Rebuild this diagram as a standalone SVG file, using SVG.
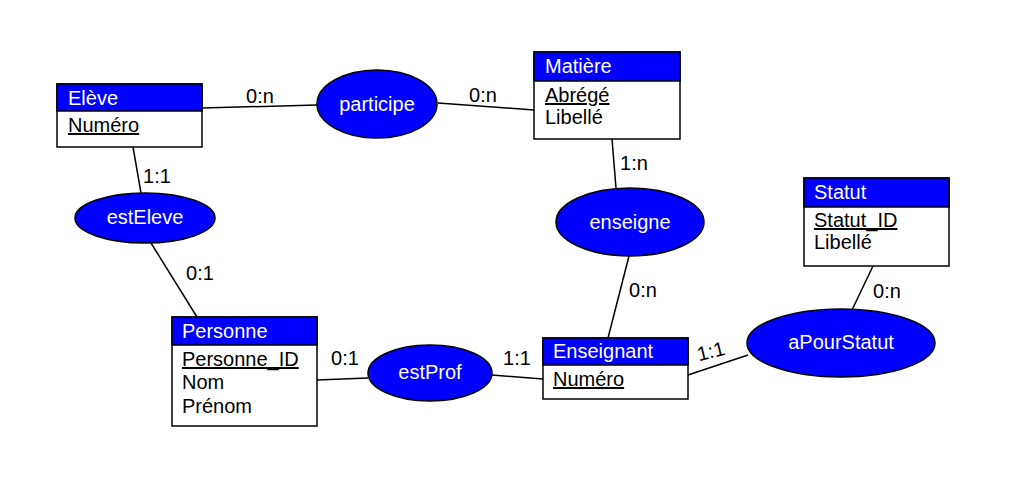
<svg xmlns="http://www.w3.org/2000/svg" width="1017" height="487" viewBox="0 0 1017 487">
<style>
text{font-family:"Liberation Sans",Arial,sans-serif;font-size:20px}
.box{fill:#fff;stroke:#000;stroke-width:1.5}
.hdr{fill:#0000ff;stroke:#000;stroke-width:1.5}
.ell{fill:#0000ff;stroke:#000;stroke-width:1.5}
.t{fill:#fff}
.a{fill:#000}
.k{fill:#000;text-decoration:underline}
.c{text-anchor:middle}
.ln{stroke:#000;stroke-width:1.5;fill:none}
.lbl{fill:#000;text-anchor:middle}
</style>
<rect width="1017" height="487" fill="#fff"/>
<g id="connectors">
<line class="ln" x1="202" y1="108" x2="317" y2="105"/>
<line class="ln" x1="438" y1="103" x2="534" y2="110"/>
<line class="ln" x1="612" y1="139" x2="616" y2="188"/>
<line class="ln" x1="629" y1="256" x2="608" y2="338"/>
<line class="ln" x1="873" y1="266" x2="852" y2="310"/>
<line class="ln" x1="688" y1="375" x2="748" y2="355"/>
<line class="ln" x1="317" y1="380" x2="368" y2="378"/>
<line class="ln" x1="492" y1="375" x2="543" y2="379"/>
<line class="ln" x1="133" y1="147" x2="141" y2="193"/>
<line class="ln" x1="151" y1="243" x2="197" y2="317"/>
<text class="lbl" x="260" y="103">0:n</text>
<text class="lbl" x="483" y="102">0:n</text>
<text class="lbl" x="157" y="183">1:1</text>
<text class="lbl" x="634" y="170">1:n</text>
<text class="lbl" x="200" y="280">0:1</text>
<text class="lbl" x="643" y="297">0:n</text>
<text class="lbl" x="887" y="298">0:n</text>
<text class="lbl" x="711" y="358" transform="rotate(-14 711 352)">1:1</text>
<text class="lbl" x="345" y="365">0:1</text>
<text class="lbl" x="517" y="365">1:1</text>
</g>
<g id="eleve">
<rect class="box" x="57" y="84" width="145" height="63"/>
<rect class="hdr" x="57" y="84" width="145" height="27"/>
<text class="t" x="68" y="105">Elève</text>
<text class="k" x="68" y="132">Numéro</text>
</g>
<g id="matiere">
<rect class="box" x="534" y="52" width="146" height="87"/>
<rect class="hdr" x="534" y="52" width="146" height="29"/>
<text class="t" x="545" y="73">Matière</text>
<text class="k" x="545" y="102">Abrégé</text>
<text class="a" x="545" y="124">Libellé</text>
</g>
<g id="statut">
<rect class="box" x="804" y="178" width="145" height="88"/>
<rect class="hdr" x="804" y="178" width="145" height="29"/>
<text class="t" x="814" y="199">Statut</text>
<text class="k" x="814" y="227">Statut_ID</text>
<text class="a" x="814" y="249">Libellé</text>
</g>
<g id="enseignant">
<rect class="box" x="543" y="338" width="145" height="61"/>
<rect class="hdr" x="543" y="338" width="145" height="27"/>
<text class="t" x="553" y="358">Enseignant</text>
<text class="k" x="553" y="386">Numéro</text>
</g>
<g id="personne">
<rect class="box" x="172" y="317" width="145" height="109"/>
<rect class="hdr" x="172" y="317" width="145" height="28"/>
<text class="t" x="182" y="338">Personne</text>
<text class="k" x="182" y="366">Personne_ID</text>
<text class="a" x="182" y="389">Nom</text>
<text class="a" x="182" y="413">Prénom</text>
</g>
<g id="participe">
<ellipse class="ell" cx="377" cy="104" rx="60" ry="34"/>
<text class="t c" x="377" y="111">participe</text>
</g>
<g id="estEleve">
<ellipse class="ell" cx="145" cy="218" rx="70" ry="25"/>
<text class="t c" x="145" y="224">estEleve</text>
</g>
<g id="enseigne">
<ellipse class="ell" cx="630" cy="222" rx="74" ry="34"/>
<text class="t c" x="630" y="229">enseigne</text>
</g>
<g id="aPourStatut">
<ellipse class="ell" cx="841" cy="343" rx="94" ry="34"/>
<text class="t c" x="841" y="349">aPourStatut</text>
</g>
<g id="estProf">
<ellipse class="ell" cx="430" cy="373" rx="62" ry="28"/>
<text class="t c" x="430" y="379">estProf</text>
</g>
</svg>
